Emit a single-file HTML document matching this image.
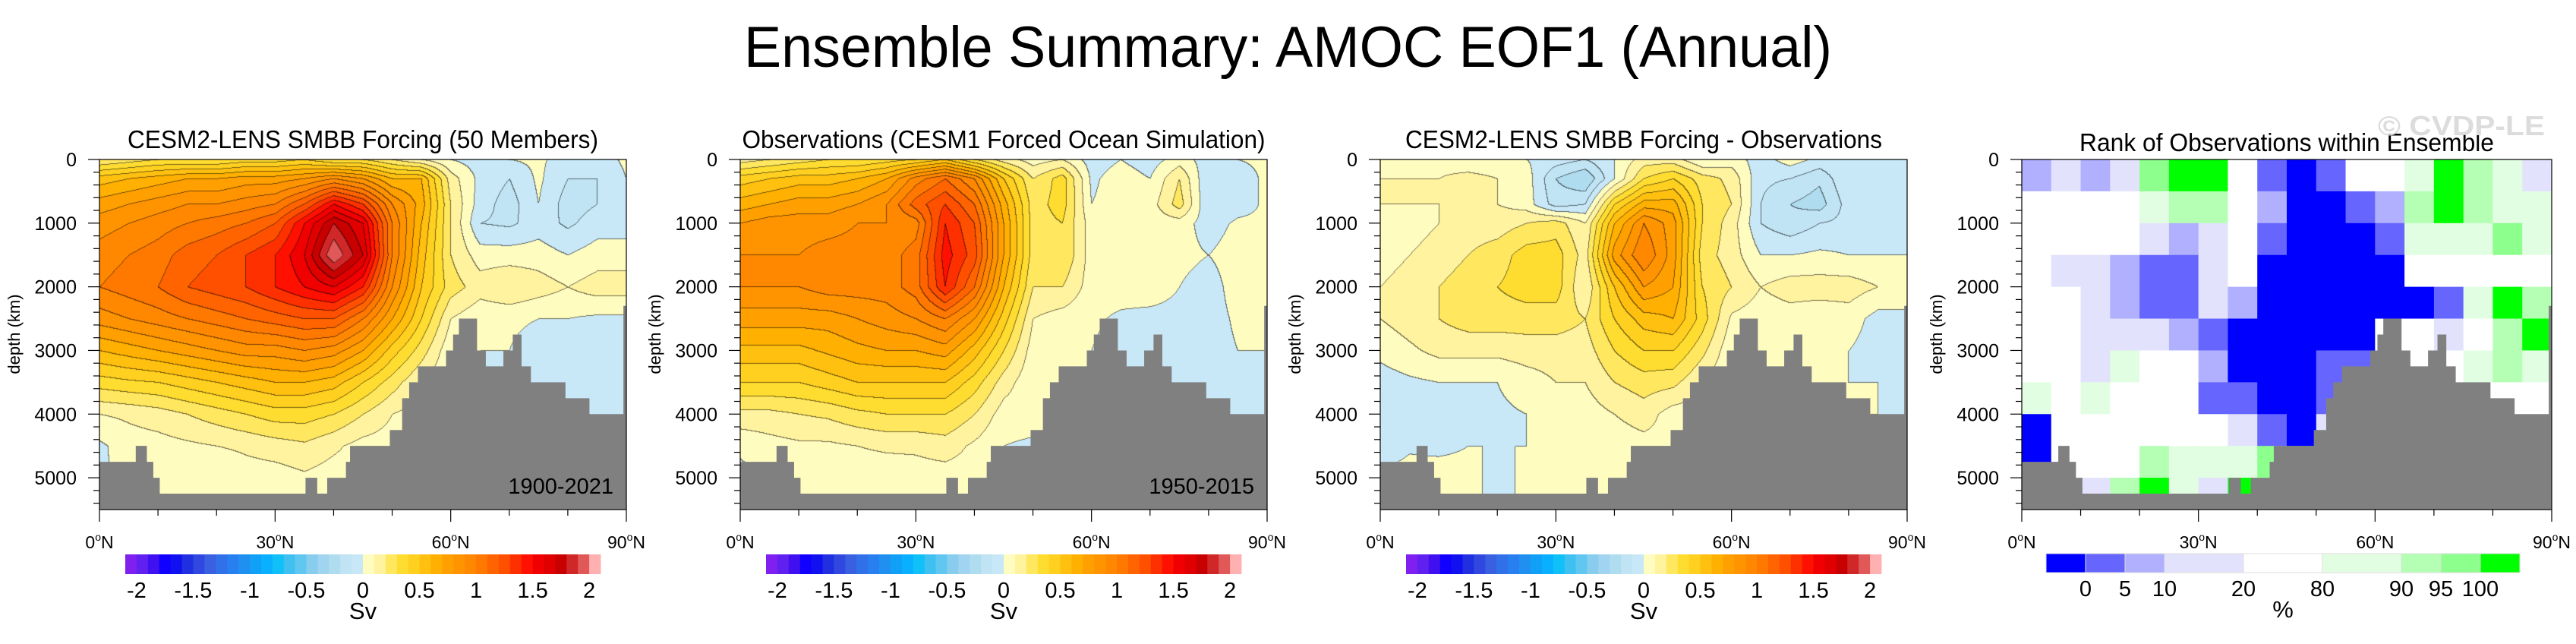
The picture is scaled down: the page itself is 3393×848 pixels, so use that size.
<!DOCTYPE html>
<html><head><meta charset="utf-8">
<style>
html,body{margin:0;padding:0;background:#fff;}
body{width:3393px;height:848px;position:relative;overflow:hidden;font-family:"Liberation Sans",sans-serif;}
canvas{position:absolute;}
svg{position:absolute;left:0;top:0;}
</style></head>
<body>
<canvas id="c0"></canvas>
<canvas id="c1"></canvas>
<canvas id="c2"></canvas>
<svg id="ov" width="3393" height="848" xmlns="http://www.w3.org/2000/svg"></svg>
<script>
// ---------- data ----------
const lats = [0,5,10,15,20,25,30,35,40,45,50,55,60,65,70,75,80,85,90];
const depths = [0,300,700,1000,1500,2000,2500,3000,3500,4000,4500,5000,5500];
// ensemble EOF1 (Sv), one array per latitude, values by depth
const ensembleField = [
[0.2,0.55,0.75,0.85,0.95,1.0,0.85,0.6,0.35,0.1,-0.02,-0.02,-0.02],
[0.25,0.6,0.8,0.9,1.0,1.05,0.9,0.65,0.38,0.12,0.05,0.03,0.03],
[0.3,0.65,0.85,0.95,1.05,1.1,0.95,0.7,0.4,0.15,0.06,0.04,0.04],
[0.3,0.7,0.9,1.0,1.15,1.2,1.0,0.75,0.45,0.2,0.08,0.05,0.05],
[0.3,0.7,0.9,1.05,1.2,1.25,1.05,0.8,0.5,0.25,0.1,0.0,0.0],
[0.35,0.75,0.95,1.1,1.3,1.3,1.1,0.85,0.55,0.3,0.12,0.05,0.05],
[0.35,0.75,1.0,1.2,1.4,1.4,1.15,0.85,0.6,0.35,0.15,0.05,0.05],
[0.4,0.8,1.2,1.5,1.6,1.5,1.2,0.9,0.6,0.35,0.18,0.08,0.08],
[0.3,0.9,1.5,1.8,2.0,1.6,1.2,0.85,0.55,0.3,0.12,0.05,0.05],
[0.3,0.8,1.3,1.6,1.7,1.4,1.0,0.7,0.4,0.2,0.06,0.05,0.05],
[0.2,0.6,0.9,1.0,1.0,0.9,0.7,0.45,0.25,0.1,0.05,0.05,0.05],
[0.1,0.6,0.65,0.6,0.55,0.5,0.4,0.25,0.1,0.05,0,0,0],
[0.0,0.15,0.2,0.2,0.2,0.25,0.1,0.02,0,0,0,0,0],
[-0.05,-0.03,-0.05,-0.1,0.05,0.15,0.02,0.0,0.0,0,0,0,0],
[0.0,-0.1,-0.15,-0.12,0.05,0.2,0.02,0.0,-0.02,0,0,0,0],
[0.02,0.02,0.0,-0.05,0.05,0.15,0.0,-0.05,-0.05,-0.05,0,0,0],
[-0.05,-0.1,-0.15,-0.12,0.0,0.1,0.0,-0.05,-0.05,-0.05,0,0,0],
[-0.05,-0.1,-0.1,-0.05,0.05,0.15,-0.02,-0.05,-0.05,-0.05,-0.05,0,0],
[0.02,0.0,-0.05,-0.05,0.05,0.15,-0.02,-0.05,-0.05,-0.05,-0.05,0,0]
];
// observations EOF1 (Sv)
const observationField = [
[0.15,0.45,0.65,0.8,0.9,0.9,0.75,0.57,0.4,0.17,0.02,-0.03,-0.03],
[0.2,0.5,0.7,0.85,0.9,0.9,0.75,0.57,0.4,0.17,0.06,0.0,0],
[0.25,0.55,0.75,0.85,0.9,0.9,0.75,0.57,0.4,0.2,0.08,0.0,0],
[0.3,0.55,0.75,0.85,0.95,0.95,0.75,0.62,0.45,0.22,0.08,0.02,0.02],
[0.3,0.6,0.8,0.9,0.95,0.95,0.8,0.67,0.5,0.27,0.1,0.03,0.03],
[0.35,0.7,0.9,0.9,0.95,0.95,0.85,0.7,0.5,0.3,0.12,0.03,0.03],
[0.4,0.95,1.15,0.95,1.05,1.05,0.9,0.7,0.5,0.3,0.12,0.05,0.05],
[0.5,1.1,1.3,1.4,1.45,1.4,1.0,0.75,0.5,0.3,0.15,0.05,0.05],
[0.3,0.9,1.1,1.2,1.25,1.1,0.8,0.55,0.35,0.2,0.08,0.05,0.05],
[0.15,0.5,0.65,0.7,0.7,0.6,0.45,0.3,0.15,0.05,0,-0.03,-0.03],
[0.05,0.2,0.25,0.25,0.25,0.2,0.1,0.05,0.02,0.05,-0.02,0,0],
[0.1,0.35,0.35,0.3,0.3,0.2,0.05,0.02,0.0,0,0,0,0],
[-0.05,-0.02,0.0,0.05,0.05,0.05,0.02,0.0,0,0,0,0,0],
[0.0,0.05,0.05,0.0,0.05,0.05,-0.02,-0.05,-0.05,0,0,0,0],
[-0.05,0.0,0.05,0.05,0.05,0.05,-0.03,-0.05,-0.05,0,0,0,0],
[0.05,0.2,0.25,0.05,0.03,0.0,-0.03,-0.05,-0.05,-0.05,0,0,0],
[-0.05,-0.1,-0.1,-0.05,0.0,-0.05,-0.05,-0.05,-0.05,-0.05,0,0,0],
[0.0,-0.05,-0.05,0.02,0.05,0.05,0.02,0.0,-0.05,-0.05,0,0,0],
[0.02,0.02,0.02,0.02,0.05,0.05,0.02,0.0,0,0,0,0,0]
];
// rank of observations (%) on 5deg x 500m cells, rows by depth
const rankRows = [
[8,15,8,15,97,101,101,50,3,-1,3,50,50,85,101,92,85,15],
[50,50,50,50,85,92,92,50,8,-1,-1,3,8,92,101,92,85,85],
[50,50,50,50,15,8,15,50,3,-1,-1,-1,3,85,85,85,97,85],
[50,15,15,8,3,3,15,50,-1,-1,-1,-1,-1,50,50,50,50,50],
[50,50,15,8,3,3,15,8,-1,-1,-1,-1,-1,-1,3,85,101,92],
[50,50,15,15,15,8,3,-1,-1,-1,-1,-1,50,50,15,50,92,101],
[50,50,15,85,50,50,8,-1,-1,-1,3,3,85,50,50,85,92,85],
[85,50,85,50,50,50,3,3,-1,-1,3,50,50,50,50,50,50,50],
[-1,50,50,50,50,50,50,15,3,-1,15,50,50,50,50,50,50,50],
[-1,50,50,50,92,85,85,85,97,101,50,50,50,50,50,50,50,50],
[50,50,15,92,101,85,15,101,50,50,50,50,50,50,50,50,50,50]
];
const bathyLat = [0,6.2,8.1,9.2,10.3,35.2,37.2,38.9,42.1,42.8,49.6,51.7,52.9,54.4,59.2,60.4,61.4,64.5,66,69,70.6,72.1,73.7,79.6,83.7,89.5];
const bathyDepth = [4750,4500,4750,5000,5250,5000,5250,5000,4750,4500,4250,3750,3500,3250,3000,2750,2500,3000,3250,3000,2750,3250,3500,3750,4000,2300];
const svLevels = ["-2","-1.5","-1","-0.5","0","0.5","1","1.5","2"];
const rankLabels = ["0","5","10","20","80","90","95","100"];
const yTicks = [0,1000,2000,3000,4000,5000];
const xTicks = [0,30,60,90];
const palette = ["#8020f0","#6020f0","#4010f0","#1000ff","#1010f0","#2030e0","#3048e0","#3860e0","#3070e8","#2880f0","#2090f0","#10a0f8","#08b0ff","#10c0f8","#40c0f0","#60c8f0","#88ccee","#a0d4f0","#b0dcf0","#c0e4f4","#c8e8f8",
"#fffcc0","#fff3a0","#ffe860","#ffdc30","#ffd020","#ffc010","#ffb000","#ffa000","#ff9400","#ff8800","#ff7800","#ff6400","#ff5000","#ff3000","#ff1000","#f00000","#e00000","#c80000","#d02828","#e05858","#ffb0b0"];
const rankColors = ["#0000ff","#6666ff","#b0b0ff","#e2e2fc","#ffffff","#e2fee2","#b4ffb4","#8cff8c","#00ff00"];
const rankUnits = [1,1,1,2,2,2,1,1,1];

// ---------- layout ----------
const panels = [{x:131,w:694},{x:975,w:694},{x:1818,w:694},{x:2663,w:698}];
const TOP = 210, H = 461, MAXD = 5500;
const NS = "http://www.w3.org/2000/svg";
const ov = document.getElementById('ov');
function mk(tag, attrs, parent){const e=document.createElementNS(NS,tag);for(const k in attrs)e.setAttribute(k,attrs[k]);(parent||ov).appendChild(e);return e;}
function xs(p,lat){return p.x + lat/90*p.w;}
function ys(d){return TOP + d/MAXD*H;}

function sample(field, lat, d){
  let i=Math.min(Math.floor(lat/5),17), t=(lat-lats[i])/5;
  let j=0; while(j<depths.length-2 && d>depths[j+1]) j++;
  let u=(d-depths[j])/(depths[j+1]-depths[j]); u=Math.max(0,Math.min(1,u));
  const a=field[i][j],b=field[i+1][j],c=field[i][j+1],e=field[i+1][j+1];
  return (a*(1-t)+b*t)*(1-u)+(c*(1-t)+e*t)*u;
}
function band(v){ if(v<-2) return 0; if(v>=2) return 41; return Math.min(41,Math.floor((v+2)/0.1+1e-9)+1); }
function hex(h){return [parseInt(h.substr(1,2),16),parseInt(h.substr(3,2),16),parseInt(h.substr(5,2),16)];}
const palRGB = palette.map(hex);

function drawField(ci, fn){
  const p=panels[ci], cv=document.getElementById('c'+ci);
  cv.width=p.w; cv.height=H; cv.style.left=p.x+'px'; cv.style.top=TOP+'px';
  const ctx=cv.getContext('2d'), img=ctx.createImageData(p.w,H);
  const B=new Int16Array(p.w*H);
  for(let y=0;y<H;y++){const d=y/H*MAXD;for(let x=0;x<p.w;x++){B[y*p.w+x]=band(fn(x/p.w*90,d));}}
  for(let y=0;y<H;y++)for(let x=0;x<p.w;x++){
    const k=B[y*p.w+x]; let c=palRGB[k];
    const edge=(x<p.w-1&&B[y*p.w+x+1]!==k)||(y<H-1&&B[(y+1)*p.w+x]!==k);
    const o=(y*p.w+x)*4;
    if(edge){img.data[o]=c[0]*0.45;img.data[o+1]=c[1]*0.45;img.data[o+2]=c[2]*0.45;}
    else{img.data[o]=c[0];img.data[o+1]=c[1];img.data[o+2]=c[2];}
    img.data[o+3]=255;
  }
  ctx.putImageData(img,0,0);
}
drawField(0,(la,d)=>sample(ensembleField,la,d));
drawField(1,(la,d)=>sample(observationField,la,d));
drawField(2,(la,d)=>sample(ensembleField,la,d)-sample(observationField,la,d));

// rank panel cells
const p4=panels[3];
const rankG=mk('g',{});


function rankCat(v){ if(v<0) return 0; if(v<5) return 1; if(v<10) return 2; if(v<20) return 3; if(v<80) return 4; if(v<90) return 5; if(v<95) return 6; if(v<=100) return 7; return 8; }
rankRows.forEach((row,r)=>row.forEach((v,c)=>{
  const x0=xs(p4,c*5), x1=xs(p4,(c+1)*5), y0=ys(r*500), y1=ys(Math.min((r+1)*500,MAXD));
  const rc=mk('rect',{x:x0,y:y0,width:x1-x0+0.5,height:y1-y0+0.5,fill:rankColors[rankCat(v)]},rankG);
  
  
}));

const titles=["CESM2-LENS SMBB Forcing (50 Members)","Observations (CESM1 Forced Ocean Simulation)","CESM2-LENS SMBB Forcing - Observations","Rank of Observations within Ensemble"];
const titleLen=[620,689,628,546];
const titleY=[195,195,195,199];

panels.forEach((p,pi)=>{
  let dpath='M'+xs(p,0)+','+ys(MAXD);
  bathyLat.forEach((la,i)=>{const nx=i<bathyLat.length-1?bathyLat[i+1]:90;dpath+=' L'+xs(p,la)+','+ys(bathyDepth[i])+' L'+xs(p,nx)+','+ys(bathyDepth[i]);});
  dpath+=' L'+xs(p,90)+','+ys(MAXD)+' Z';
  const bp=mk('path',{d:dpath,fill:'#808080'});
  
  
  const fr=mk('rect',{x:p.x,y:TOP,width:p.w,height:H,fill:'none',stroke:'#000','stroke-width':1.2});
  
  
  for(let d=0;d<=MAXD;d+=200){const major=d%1000===0;const tl=mk('line',{x1:p.x,x2:p.x-(major?15:8),y1:ys(d),y2:ys(d),stroke:'#000','stroke-width':1.2});}
  yTicks.forEach(d=>{const t=mk('text',{x:p.x-30,y:ys(d)+9,'text-anchor':'end','font-size':25});t.textContent=String(d);});
  const yt=mk('text',{x:0,y:0,'text-anchor':'middle','font-size':22,transform:'translate('+(p.x-105)+',440) rotate(-90)'});
  yt.textContent='depth (km)';
  
  
  for(let la=0;la<=90;la+=10){const major=la%30===0;const tl=mk('line',{x1:xs(p,la),x2:xs(p,la),y1:TOP+H,y2:TOP+H+(major?16:8),stroke:'#000','stroke-width':1.2});}
  xTicks.forEach(la=>{const t=mk('text',{x:xs(p,la),y:722,'text-anchor':'middle','font-size':23});
    t.innerHTML=la+'<tspan font-size="14" dy="-10">o</tspan><tspan dy="10">N</tspan>';
    });
  const st=mk('text',{x:p.x+p.w/2,y:titleY[pi],'text-anchor':'middle','font-size':33,textLength:titleLen[pi],lengthAdjust:'spacingAndGlyphs'});
  st.textContent=titles[pi];
  
  
  if(pi<3){
    const cx=p.x+34, cw=626, bw=cw/palette.length;
    palette.forEach((c,k)=>{const r=mk('rect',{x:cx+k*bw,y:730,width:bw+0.4,height:26,fill:c});});
    svLevels.forEach((l,k)=>{const t=mk('text',{x:cx+bw*(1+k*5),y:787,'text-anchor':'middle','font-size':29});t.textContent=l;});
    const u=mk('text',{x:cx+cw/2,y:815,'text-anchor':'middle','font-size':31});u.textContent='Sv';
  } else {
    const cx=2695, cw=624, unit=cw/12; let acc=0;
    rankColors.forEach((c,k)=>{const r=mk('rect',{x:cx+acc*unit,y:729,width:rankUnits[k]*unit,height:25,fill:c,stroke:'#ddd','stroke-width':1});acc+=rankUnits[k];});
    let pos=0;
    rankLabels.forEach((l,k)=>{pos+=rankUnits[k];const t=mk('text',{x:cx+pos*unit,y:785,'text-anchor':'middle','font-size':29});t.textContent=l;});
    const u=mk('text',{x:cx+cw/2,y:813,'text-anchor':'middle','font-size':31});u.textContent='%';
  }
});
[["1900-2021",0],["1950-2015",1]].forEach(([s,i])=>{const t=mk('text',{x:panels[i].x+677,y:650,'text-anchor':'end','font-size':29});t.textContent=s;});
const wm=mk('text',{x:3352,y:178,'text-anchor':'end','font-size':36,'font-weight':'bold',fill:'#dcdcdc',textLength:220,lengthAdjust:'spacingAndGlyphs'});
wm.textContent='© CVDP-LE';


const mt=mk('text',{x:980,y:88,'font-size':76,textLength:1433,lengthAdjust:'spacingAndGlyphs'});
mt.textContent='Ensemble Summary: AMOC EOF1 (Annual)';


</script>
</body></html>
